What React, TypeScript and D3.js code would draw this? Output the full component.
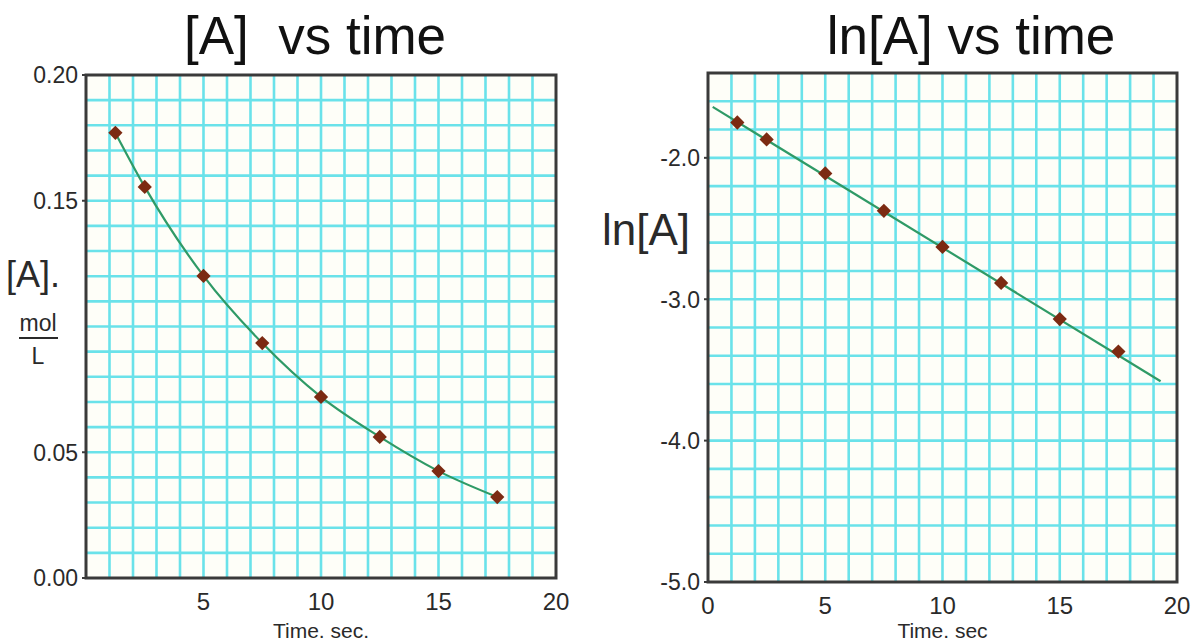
import { useEffect, useRef } from 'react'
import * as d3 from 'd3'

// data
const times = [1.25, 2.5, 5, 7.5, 10, 12.5, 15, 17.5]
const concA = [0.177, 0.1555, 0.1201, 0.0934, 0.072, 0.0561, 0.0425, 0.0322]
const lnA = [-1.75, -1.87, -2.11, -2.375, -2.63, -2.885, -3.14, -3.37]
const fitT = [0.2, 19.3]
const fitLn = [-1.64, -3.58]

const leftYTicks = [0.2, 0.15, 0.05, 0.0]
const leftXTicks = [5, 10, 15, 20]
const rightYTicks = [-2.0, -3.0, -4.0, -5.0]
const rightXTicks = [0, 5, 10, 15, 20]

const W = 1196
const H = 641
const FONT = '"Liberation Sans", Arial, Helvetica, sans-serif'
const GRID = '#6ae2ea'
const FRAME = '#3a3a3a'
const LINE = '#2f9a66'
const MARK = '#7c2a12'
const TEXT = '#2a2a2a'

export default function App() {
  const svgRef = useRef<SVGSVGElement>(null)

  useEffect(() => {
    const svg = d3.select(svgRef.current)
    svg.selectAll('*').remove()

    const panel = (opts: any) => {
      const { x, y, xTicks, yTicks, yFmt, xStep, yStep, title, titleX } = opts
      const g = svg.append('g')
      const [x0, x1] = x.range()
      const [y0, y1] = y.range() // y0 bottom, y1 top

      g.append('rect')
        .attr('x', x0).attr('y', y1)
        .attr('width', x1 - x0).attr('height', y0 - y1)
        .attr('fill', '#fefef8')

      // grid
      const xs = d3.range(x.domain()[0] + xStep, x.domain()[1] - xStep / 2, xStep)
      const [yd0, yd1] = y.domain()
      const ys = d3.range(Math.round((yd1 - yd0) / yStep) - 1).map((i) => yd0 + (i + 1) * yStep)
      g.selectAll('.vg').data(xs).join('line')
        .attr('x1', (d) => x(d)).attr('x2', (d) => x(d))
        .attr('y1', y1).attr('y2', y0)
        .attr('stroke', GRID).attr('stroke-width', 2.6)
      g.selectAll('.hg').data(ys).join('line')
        .attr('x1', x0).attr('x2', x1)
        .attr('y1', (d) => y(d)).attr('y2', (d) => y(d))
        .attr('stroke', GRID).attr('stroke-width', 2.6)

      // frame
      g.append('rect')
        .attr('x', x0).attr('y', y1)
        .attr('width', x1 - x0).attr('height', y0 - y1)
        .attr('fill', 'none').attr('stroke', FRAME).attr('stroke-width', 3)

      // y tick labels
      g.selectAll('.yt').data(yTicks).join('text')
        .attr('x', x0 - 8).attr('y', (d) => y(d))
        .attr('dy', '0.36em')
        .attr('text-anchor', 'end')
        .attr('font-family', FONT).attr('font-size', 23)
        .attr('fill', TEXT)
        .text(yFmt)
      g.selectAll('.ytm').data(yTicks).join('line')
        .attr('x1', x0 - 4).attr('x2', x0)
        .attr('y1', (d) => y(d)).attr('y2', (d) => y(d))
        .attr('stroke', FRAME).attr('stroke-width', 2)

      // x tick labels
      g.selectAll('.xt').data(xTicks).join('text')
        .attr('x', (d) => x(d)).attr('y', y0 + 32)
        .attr('text-anchor', 'middle')
        .attr('font-family', FONT).attr('font-size', 24)
        .attr('fill', TEXT)
        .text((d) => String(d))

      g.append('text')
        .attr('x', (x0 + x1) / 2).attr('y', 638)
        .attr('text-anchor', 'middle')
        .attr('font-family', FONT).attr('font-size', 21)
        .attr('fill', TEXT)
        .text(opts.xLabel)

      g.append('text')
        .attr('x', titleX).attr('y', 54)
        .attr('text-anchor', 'middle')
        .attr('font-family', FONT).attr('font-size', 53)
        .attr('fill', '#111')
        .style('white-space', 'pre')
        .text(title)
      return g
    }

    // left panel
    const xL = d3.scaleLinear().domain([0, 20]).range([86, 556])
    const yL = d3.scaleLinear().domain([0, 0.2]).range([578, 75])
    const gL = panel({
      x: xL, y: yL, xTicks: leftXTicks, yTicks: leftYTicks,
      yFmt: (d: number) => d.toFixed(2), xStep: 1, yStep: 0.01,
      title: '[A]  vs time', titleX: 315, xLabel: 'Time. sec.',
    })
    const ptsL = times.map((t, i) => [t, concA[i]] as [number, number])
    gL.append('path')
      .datum(ptsL)
      .attr('d', d3.line<[number, number]>().x((d) => xL(d[0])).y((d) => yL(d[1])).curve(d3.curveMonotoneX))
      .attr('fill', 'none').attr('stroke', LINE).attr('stroke-width', 2.2)
    gL.selectAll('.m').data(ptsL).join('path')
      .attr('transform', (d) => `translate(${xL(d[0])},${yL(d[1])})`)
      .attr('d', d3.symbol(d3.symbolDiamond2, 130))
      .attr('fill', MARK)

    gL.append('text')
      .attr('x', 6).attr('y', 287)
      .attr('font-family', FONT).attr('font-size', 36).attr('fill', TEXT)
      .text('[A].')
    gL.append('text')
      .attr('x', 38).attr('y', 331).attr('text-anchor', 'middle')
      .attr('font-family', FONT).attr('font-size', 23).attr('fill', TEXT)
      .text('mol')
    gL.append('line')
      .attr('x1', 19).attr('x2', 58).attr('y1', 338).attr('y2', 338)
      .attr('stroke', TEXT).attr('stroke-width', 2)
    gL.append('text')
      .attr('x', 38).attr('y', 364).attr('text-anchor', 'middle')
      .attr('font-family', FONT).attr('font-size', 23).attr('fill', TEXT)
      .text('L')

    // right panel
    const xR = d3.scaleLinear().domain([0, 20]).range([708, 1177])
    const yR = d3.scaleLinear().domain([-5.0, -1.4]).range([582, 73])
    const gR = panel({
      x: xR, y: yR, xTicks: rightXTicks, yTicks: rightYTicks,
      yFmt: (d: number) => d.toFixed(1), xStep: 1, yStep: 0.2,
      title: 'ln[A] vs time', titleX: 971, xLabel: 'Time. sec',
    })
    const fit = fitT.map((t, i) => [t, fitLn[i]] as [number, number])
    gR.append('path')
      .datum(fit)
      .attr('d', d3.line<[number, number]>().x((d) => xR(d[0])).y((d) => yR(d[1])))
      .attr('fill', 'none').attr('stroke', LINE).attr('stroke-width', 2.2)
    const ptsR = times.map((t, i) => [t, lnA[i]] as [number, number])
    gR.selectAll('.m').data(ptsR).join('path')
      .attr('transform', (d) => `translate(${xR(d[0])},${yR(d[1])})`)
      .attr('d', d3.symbol(d3.symbolDiamond2, 130))
      .attr('fill', MARK)
    gR.append('text')
      .attr('x', 602).attr('y', 245)
      .attr('font-family', FONT).attr('font-size', 44).attr('fill', TEXT)
      .text('ln[A]')
  }, [])

  return (
    <div style={{ position: 'absolute', left: 0, top: 0 }}>
      <svg ref={svgRef} width={W} height={H} style={{ display: 'block', background: '#fff' }} />
    </div>
  )
}
